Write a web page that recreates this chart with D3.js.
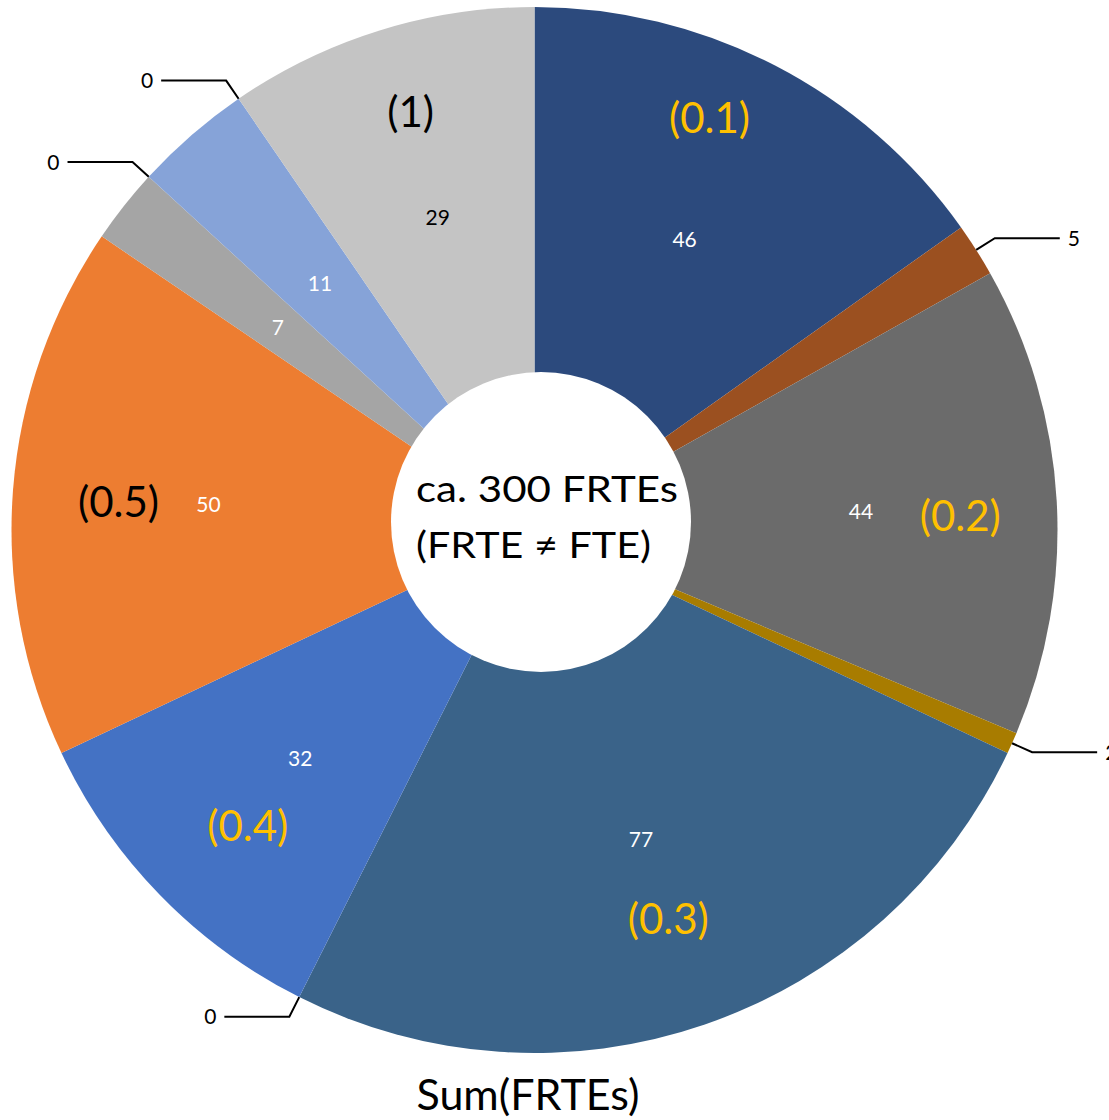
<!DOCTYPE html>
<html>
<head>
<meta charset="utf-8">
<script src="https://cdn.jsdelivr.net/npm/d3@7"></script>
<style>
  html, body { margin: 0; padding: 0; background: #fff; }
  svg { display: block; font-family: Lato, "Open Sans", sans-serif; }
</style>
</head>
<body>
<svg id="chart" width="1109" height="1120"></svg>
<script>
// Segments of the FRTE total, clockwise from 12 o'clock
const segments = ["Seg 1", "Seg 2", "Seg 3", "Seg 4", "Seg 5", "Seg 6", "Seg 7",
                  "Seg 8", "Seg 9", "Seg 10", "Seg 11", "Seg 12", "Seg 13"];
const frtes = [46, 5, 44, 2, 77, 0, 32, 50, 7, 0, 11, 0, 29];

// Fraction group annotations and the segment each one belongs to
const groupLabels = ["(0.1)", "(0.2)", "(0.3)", "(0.4)", "(0.5)", "(1)"];
const groupSegment = [0, 2, 4, 6, 7, 12];

const centerLines = ["ca. 300 FRTEs", "(FRTE \u2260 FTE)"];
const title = "Sum(FRTEs)";

// ---- styling / layout ----
const palette = ["#2C4A7D", "#9B5020", "#6B6B6B", "#A87C00", "#3A6389", "#8A6A3A", "#4472C4",
                 "#ED7D31", "#A5A5A5", "#5B7FB0", "#86A3D8", "#8A8A8A", "#C4C4C4"];
const valueInk = ["#fff", "#fff", "#fff", "#fff", "#fff", "#fff", "#fff",
                  "#fff", "#fff", "#fff", "#fff", "#fff", "#000"];
const groupInk = ["#FFC000", "#FFC000", "#FFC000", "#FFC000", "#000", "#000"];
// annotation placement: polar angle (deg, clockwise from top) and radius
const groupPlace = [[23.0, 448], [88.1, 426], [161.0, 411], [224.1, 412], [273.9, 417], [343.5, 436]];

const cx = 534.5, cy = 530, R = 523;
const labelR = 327;
const hole = { x: 541, y: 522, r: 150 };

const svg = d3.select("#chart");
const g = svg.append("g").attr("transform", `translate(${cx},${cy})`);

const pie = d3.pie().sort(null).value(d => d);
const arcs = pie(frtes);
const arc = d3.arc().innerRadius(0).outerRadius(R);
const labelArc = d3.arc().innerRadius(labelR).outerRadius(labelR);

g.selectAll("path.slice")
  .data(arcs)
  .join("path")
  .attr("class", "slice")
  .attr("d", arc)
  .attr("fill", (d, i) => palette[i]);

const mid = d => (d.startAngle + d.endAngle) / 2;
const isOutside = d => d.data < 6;

// inside value labels
g.selectAll("text.val")
  .data(arcs.filter(d => !isOutside(d)))
  .join("text")
  .attr("class", "val")
  .attr("transform", d => `translate(${labelArc.centroid(d)})`)
  .attr("text-anchor", "middle")
  .attr("dy", "0.36em")
  .attr("font-size", 21)
  .attr("fill", d => valueInk[d.index])
  .text(d => d.data);

// outside labels with leader lines
const outside = arcs.filter(isOutside);
const leader = d => {
  const a = mid(d);
  const s = Math.sin(a), c = -Math.cos(a);
  const p0 = [R * s, R * c];
  const p1 = [(R + 22) * s, (R + 22) * c];
  const dir = s >= 0 ? 1 : -1;
  const p2 = [p1[0] + dir * 65, p1[1]];
  return { p0, p1, p2, dir };
};
g.selectAll("path.leader")
  .data(outside)
  .join("path")
  .attr("class", "leader")
  .attr("d", d => { const l = leader(d); return d3.line()([l.p0, l.p1, l.p2]); })
  .attr("fill", "none")
  .attr("stroke", "#000")
  .attr("stroke-width", 2);
g.selectAll("text.out")
  .data(outside)
  .join("text")
  .attr("class", "out")
  .attr("x", d => { const l = leader(d); return l.p2[0] + l.dir * 8; })
  .attr("y", d => leader(d).p2[1])
  .attr("dy", "0.36em")
  .attr("text-anchor", d => leader(d).dir > 0 ? "start" : "end")
  .attr("font-size", 21)
  .attr("fill", "#000")
  .text(d => d.data);

// fraction group annotations
g.selectAll("text.grp")
  .data(groupLabels)
  .join("text")
  .attr("class", "grp")
  .attr("x", (d, i) => groupPlace[i][1] * Math.sin(groupPlace[i][0] * Math.PI / 180))
  .attr("y", (d, i) => -groupPlace[i][1] * Math.cos(groupPlace[i][0] * Math.PI / 180))
  .attr("dy", "0.36em")
  .attr("text-anchor", "middle")
  .attr("font-size", 42)
  .attr("fill", (d, i) => groupInk[i])
  .text(d => d);

// center disc with caption
svg.append("circle")
  .attr("cx", hole.x).attr("cy", hole.y).attr("r", hole.r)
  .attr("fill", "#fff");
const lineWidths = [262, 235];
svg.selectAll("text.center")
  .data(centerLines)
  .join("text")
  .attr("class", "center")
  .attr("x", 416)
  .attr("y", (d, i) => 502 + i * 56)
  .attr("font-size", 36)
  .attr("fill", "#000")
  .attr("textLength", (d, i) => lineWidths[i])
  .attr("lengthAdjust", "spacingAndGlyphs")
  .text(d => d);

// title
svg.append("text")
  .attr("x", 528).attr("y", 1110)
  .attr("text-anchor", "middle")
  .attr("font-size", 43)
  .attr("fill", "#000")
  .text(title);
</script>
</body>
</html>
